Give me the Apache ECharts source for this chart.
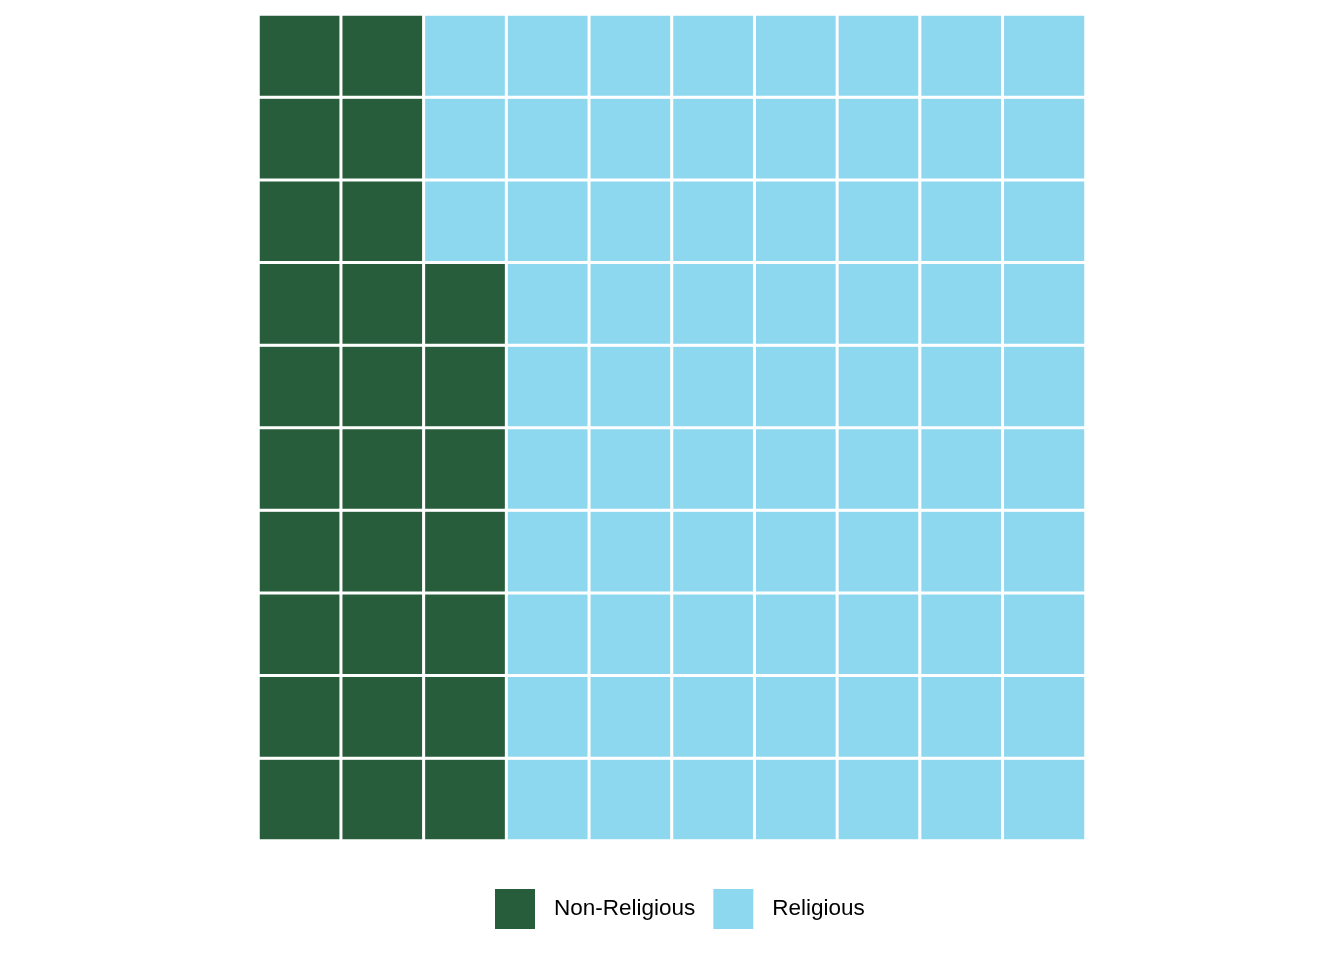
<!DOCTYPE html>
<html>
<head>
<meta charset="utf-8">
<script src="https://cdn.jsdelivr.net/npm/echarts@6/dist/echarts.min.js"></script>
<style>
  html, body { margin: 0; padding: 0; background: #fff; }
  #main { width: 1344px; height: 960px; }
</style>
</head>
<body>
<div id="main"></div>
<script>
// waffle: 10 x 10 squares
var categories = ['Non-Religious', 'Religious'];
var counts = [27, 73];
var colors = ['#275D3A', '#8DD8EF'];
var nCols = 10;
var nRows = 10;

// fill column by column, from bottom to top
var cells = [];
var idx = 0;
for (var k = 0; k < categories.length; k++) {
	var d = [];
	for (var c = 0; c < counts[k]; c++) {
		d.push([Math.floor(idx / nRows), idx % nRows, 1]);
		idx++;
	}
	cells.push(d);
}

var axisIdx = [];
for (var i = 0; i < nCols; i++) axisIdx.push(i);

var myChart = echarts.init(document.getElementById('main'));
var option = {
	animation: false,
	legend: {
		left: 488,
		top: 882,
		itemWidth: 42,
		itemHeight: 42,
		itemGap: 16,
		icon: 'rect',
		textStyle: {
			fontFamily: 'Liberation Sans, Arial',
			fontSize: 22.5,
			color: '#000',
			padding: [0, 0, 0, 13]
		},
		data: categories
	},
	grid: {
		left: 258.5,
		top: 14.5,
		width: 827,
		height: 826
	},
	xAxis: {
		type: 'category',
		data: axisIdx,
		show: false
	},
	yAxis: {
		type: 'category',
		data: axisIdx,
		show: false
	},
	series: categories.map(function (name, k) {
		return {
			name: name,
			type: 'heatmap',
			data: cells[k],
			itemStyle: {
				color: colors[k],
				borderColor: '#fff',
				borderWidth: 3
			},
			emphasis: { disabled: true }
		};
	})
};
myChart.setOption(option);
</script>
</body>
</html>
